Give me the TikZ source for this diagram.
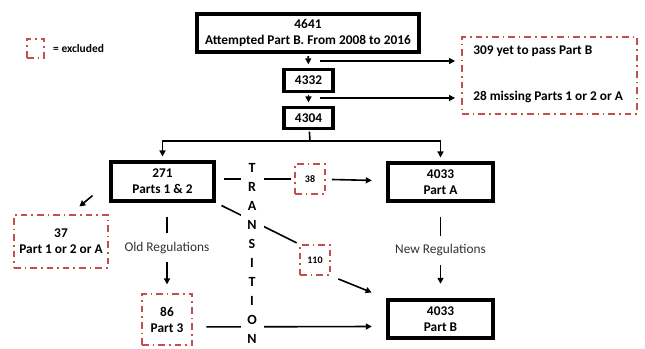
\documentclass[tikz,border=0pt]{standalone}
\usepackage{fontspec}
\setmainfont{Carlito}
\usetikzlibrary{positioning,arrows.meta,backgrounds}
\definecolor{exred}{HTML}{C0504D}
\definecolor{labgray}{HTML}{333333}

\begin{document}
\begin{tikzpicture}[x=0.75pt,y=-0.75pt,
	boxbold/.style={draw=black, line width=2.3pt, inner sep=0pt, align=center,
		font=\bfseries\fontsize{10}{12}\selectfont},
	exclbox/.style={draw=exred, line width=1.4pt, inner sep=0pt, align=center,
		dash pattern=on 5pt off 3pt on 1.2pt off 3pt,
		font=\bfseries\fontsize{10}{12}\selectfont},
	conn/.style={line width=1.2pt},
	arr/.style={conn, -{Triangle[length=4.5pt,width=4.5pt]}},
	reglabel/.style={fill=white, text=labgray, inner xsep=1pt, inner ysep=6.5pt,
		font=\fontsize{10}{12}\selectfont}]
	\useasboundingbox (0,0) rectangle (645,349);
	%% legend
	\node[exclbox, minimum width=12.75pt, minimum height=14.25pt] (legbox) at (35.5,48.5) {};
	\node[right=6pt of legbox, inner sep=0pt, font=\bfseries\fontsize{8.6}{10}\selectfont] (legtext) {= excluded};
	%% top column
	\node[boxbold, minimum width=166.5pt, minimum height=28.5pt] (b4641) at (308,33) {4641\\Attempted Part B. From 2008 to 2016};
	\node[boxbold, minimum width=36.75pt, minimum height=16pt] (b4332) at (308.5,80.5) {4332};
	\node[boxbold, minimum width=36.75pt, minimum height=16pt] (b4304) at (308.5,118) {4304};
	\node[exclbox, minimum width=131.25pt, minimum height=57.75pt] (excl) at (549.5,75.5) {};
	\node[anchor=west, inner sep=0pt, font=\bfseries\fontsize{10}{12}\selectfont] (t309) at (473,51) {309 yet to pass Part B};
	\node[anchor=west, inner sep=0pt, font=\bfseries\fontsize{10}{12}\selectfont] (t28) at (473,97) {28 missing Parts 1 or 2 or A};
	%% lower part
	\node[boxbold, minimum width=77.25pt, minimum height=29.25pt] (b271) at (162.5,181.5) {271\\Parts 1 \& 2};
	\node[boxbold, minimum width=78.75pt, minimum height=28.5pt] (partA) at (440.5,182) {4033\\Part A};
	\node[boxbold, minimum width=78.75pt, minimum height=28.5pt] (partB) at (440.5,319) {4033\\Part B};
	\node[exclbox, minimum width=22.5pt, minimum height=22.5pt, font=\bfseries\fontsize{7.5}{9}\selectfont] (x38) at (310,179) {38};
	\node[exclbox, minimum width=22.5pt, minimum height=22.5pt, font=\bfseries\fontsize{7.5}{9}\selectfont] (x110) at (315,260) {110};
	\node[exclbox, minimum width=70.5pt, minimum height=39.75pt] (x37) at (61,241.5) {37\\Part 1 or 2 or A};
	\node[exclbox, minimum width=37.5pt, minimum height=38.25pt] (x86) at (167,319.5) {86\\Part 3};
	\node[fill=white, minimum width=17.25pt, inner xsep=0pt, inner ysep=2pt, align=center,
		font=\bfseries\fontsize{10.5}{14.25}\selectfont] (trans) at (252,253) {T\\R\\A\\N\\S\\I\\T\\I\\O\\N};
	%% connectors
	\coordinate (a1) at (320,61);
	\coordinate (a2) at (320,98);
	\coordinate (split) at (310,141);
	\draw[arr, shorten <=2pt, shorten >=3pt] (b4641) -- (b4332);
	\draw[arr, shorten <=1.5pt, shorten >=2.5pt] (b4332) -- (b4304);
	\draw[arr, shorten >=4.5pt] (a1) -- (a1 -| excl.west);
	\draw[arr, shorten >=4.5pt] (a2) -- (a2 -| excl.west);
	\draw[conn, shorten <=1pt] (b4304) -- (split);
	\draw[arr, shorten >=3pt] (split) -| (b271);
	\draw[arr, shorten >=3pt] (split) -| (partA);
	\draw[arr, shorten <=16.5pt, shorten >=8.8pt] (b271.west) -- ([xshift=7pt]x37.north);
	\draw[arr, shorten <=10.5pt, shorten >=6.5pt] (x86.north |- b271.south) -- node[reglabel] {Old Regulations} (x86.north);
	\draw[arr, shorten <=10.5pt, shorten >=11pt] (partA) -- node[reglabel] {New Regulations} (partB);
	\draw[arr, shorten <=4.5pt, shorten >=11pt] (x38) -- (partA);
	\draw[arr, shorten <=6pt, shorten >=12pt] (x110.south east) -- (partB.north west);
	\begin{scope}[on background layer]
		\draw[conn, shorten <=6pt, shorten >=2pt] (b271.east |- x38) -- (x38);
		\draw[conn, shorten <=5pt, shorten >=2pt] (b271.south east) -- (x110.north west);
		\draw[arr, shorten <=10pt, shorten >=11pt] ([yshift=-5.6pt]x86.east) -- ([yshift=-5.6pt]partB.west);
	\end{scope}
\end{tikzpicture}
\end{document}
